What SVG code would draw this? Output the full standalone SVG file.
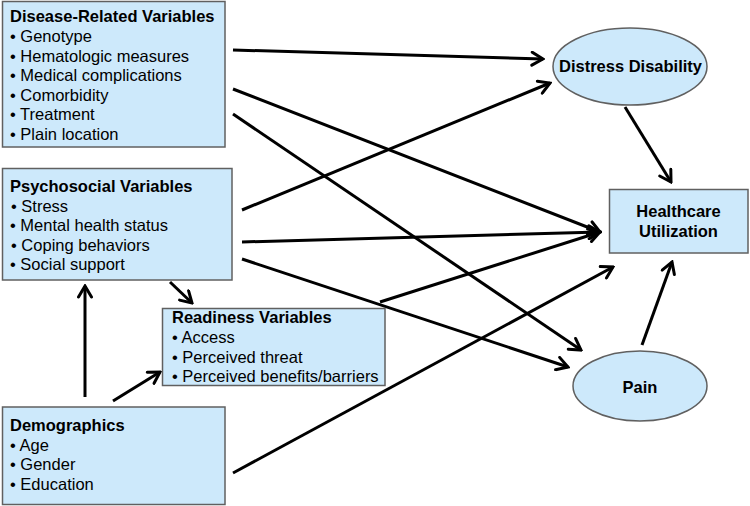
<svg xmlns="http://www.w3.org/2000/svg" width="750" height="506" viewBox="0 0 750 506">
<style>
.box{fill:#cde9fb;stroke:#606060;stroke-width:1.5}
.t{font-family:"Liberation Sans",Arial,sans-serif;font-size:16.5px;fill:#000}
.b{font-weight:bold}
.c{text-anchor:middle}
.e{fill:none;stroke:#000;stroke-width:3;marker-end:url(#arr)}
</style>
<defs>
<marker id="arr" viewBox="0 0 16 16" refX="14" refY="8" markerWidth="16" markerHeight="16" markerUnits="userSpaceOnUse" orient="auto">
<path d="M3,1.5 L14,8 L3,14.5" fill="none" stroke="#000" stroke-width="3" stroke-linecap="round"/>
</marker>
</defs>
<rect width="750" height="506" fill="#fff"/>
<g id="connectors">
<line class="e" x1="233" y1="50" x2="543" y2="59"/>
<line class="e" x1="233" y1="89" x2="600" y2="232"/>
<line class="e" x1="233" y1="114" x2="581" y2="350"/>
<line class="e" x1="242" y1="210" x2="550" y2="83"/>
<line class="e" x1="242" y1="242" x2="600" y2="232"/>
<line class="e" x1="242" y1="259" x2="568" y2="367"/>
<line class="e" x1="170" y1="282" x2="192" y2="303"/>
<line class="e" x1="85" y1="397" x2="85" y2="286"/>
<line class="e" x1="113" y1="401" x2="160" y2="372"/>
<line class="e" x1="233" y1="473" x2="613" y2="267"/>
<line class="e" x1="380" y1="302" x2="600" y2="232"/>
<line class="e" x1="625" y1="107" x2="671" y2="182"/>
<line class="e" x1="642" y1="345" x2="672" y2="262"/>
</g>
<g id="disease">
<rect class="box" x="2.5" y="1.5" width="222.5" height="145.5"/>
<text class="t b" x="10" y="21.5">Disease-Related Variables</text>
<text class="t" x="10" y="42">• Genotype</text>
<text class="t" x="10" y="61.5">• Hematologic measures</text>
<text class="t" x="10" y="81">• Medical complications</text>
<text class="t" x="10" y="100.5">• Comorbidity</text>
<text class="t" x="10" y="120">• Treatment</text>
<text class="t" x="10" y="139.5">• Plain location</text>
</g>
<g id="psychosocial">
<rect class="box" x="2.5" y="168.5" width="229.5" height="111.5"/>
<text class="t b" x="10" y="191.5">Psychosocial Variables</text>
<text class="t" x="11" y="211.5">• Stress</text>
<text class="t" x="10" y="231">• Mental health status</text>
<text class="t" x="11" y="250.5">• Coping behaviors</text>
<text class="t" x="10" y="270">• Social support</text>
</g>
<g id="readiness">
<rect class="box" x="162.5" y="308.5" width="222.5" height="77"/>
<text class="t b" x="172" y="323">Readiness Variables</text>
<text class="t" x="172" y="342.5">• Access</text>
<text class="t" x="172" y="362.5">• Perceived threat</text>
<text class="t" x="172" y="381.5">• Perceived benefits/barriers</text>
</g>
<g id="demographics">
<rect class="box" x="2.5" y="407" width="222.5" height="97.5"/>
<text class="t b" x="10" y="430.5">Demographics</text>
<text class="t" x="10" y="450.5">• Age</text>
<text class="t" x="10" y="470">• Gender</text>
<text class="t" x="10" y="490">• Education</text>
</g>
<g id="distress">
<ellipse class="box" cx="630" cy="66.5" rx="77" ry="38.5"/>
<text class="t b c" x="630.5" y="72">Distress Disability</text>
</g>
<g id="healthcare">
<rect class="box" x="609.5" y="189.5" width="138.5" height="63.5"/>
<text class="t b c" x="678.5" y="217">Healthcare</text>
<text class="t b c" x="678.5" y="237">Utilization</text>
</g>
<g id="pain">
<ellipse class="box" cx="640" cy="386" rx="67" ry="35"/>
<text class="t b c" x="640" y="393">Pain</text>
</g>
</svg>
